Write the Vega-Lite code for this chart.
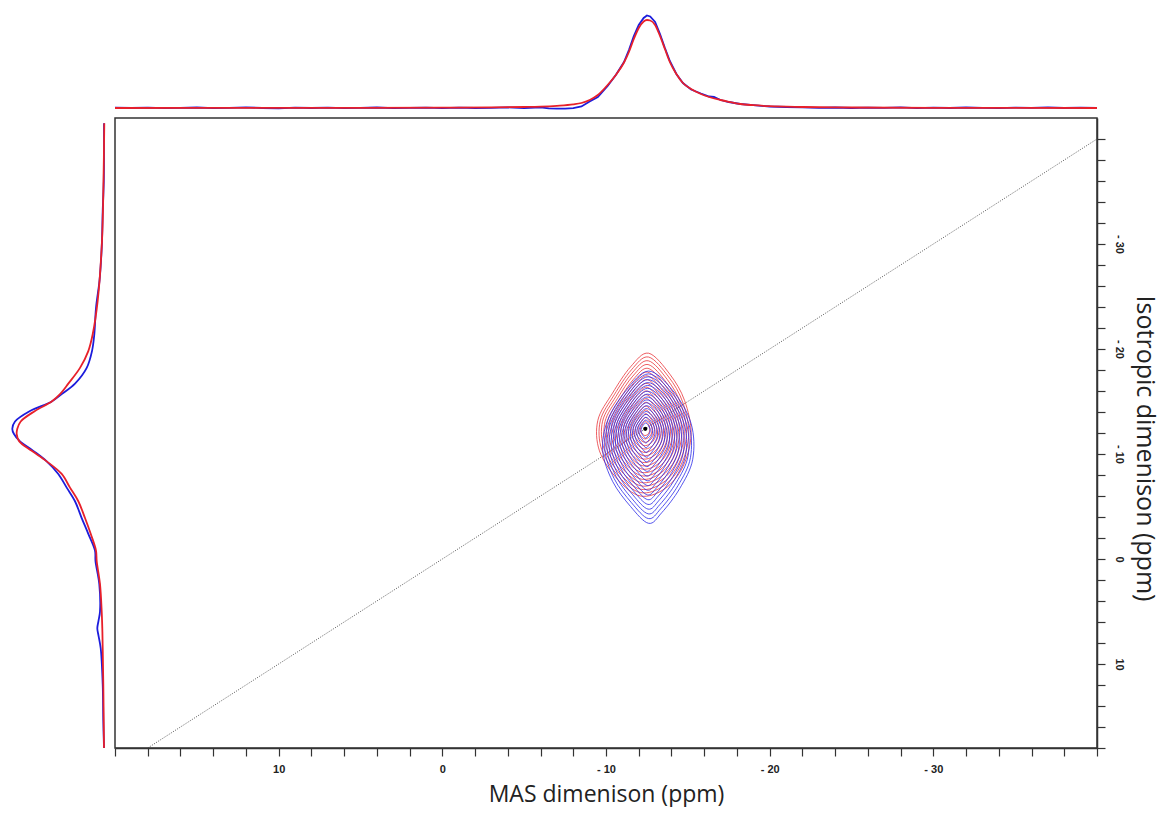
{
"$schema": "https://vega.github.io/schema/vega-lite/v6.json",
"padding": {"left": 8, "top": 10, "right": 0, "bottom": 0},
"background": "white",
"config": {"view": {"stroke": null}, "font": "Liberation Sans"},
"datasets": {
"topB": [
{"x":20,"v":2.3},{"x":19,"v":2.0},{"x":18,"v":2.4},{"x":17,"v":1.8},{"x":16,"v":2.2},{"x":15,"v":2.5},{"x":14,"v":1.9},{"x":13,"v":2.1},{"x":12,"v":2.6},{"x":11,"v":2.0},{"x":10,"v":1.7},{"x":9,"v":2.3},{"x":8,"v":2.0},{"x":7,"v":2.4},{"x":6,"v":1.9},{"x":5,"v":2.2},{"x":4,"v":2.5},{"x":3,"v":1.8},{"x":2,"v":2.1},{"x":1,"v":2.3},{"x":0,"v":1.9},{"x":-1,"v":2.4},{"x":-2,"v":2.0},{"x":-3,"v":2.2},{"x":-4,"v":2.6},{"x":-5,"v":2.0},{"x":-6,"v":2.7},{"x":-6.5,"v":1.7},{"x":-7,"v":1.4},{"x":-7.5,"v":1.3},{"x":-8,"v":1.8},{"x":-8.5,"v":3.5},{"x":-9,"v":8.5},{"x":-9.5,"v":13},{"x":-10.1,"v":24},{"x":-10.6,"v":35},{"x":-11.1,"v":48},{"x":-11.4,"v":60},{"x":-11.7,"v":74},{"x":-12.0,"v":85},{"x":-12.3,"v":92},{"x":-12.5,"v":94.5},{"x":-12.7,"v":93.5},{"x":-13.0,"v":88},{"x":-13.3,"v":76},{"x":-13.6,"v":62},{"x":-13.9,"v":49},{"x":-14.3,"v":36},{"x":-14.7,"v":27},{"x":-15.2,"v":20.5},{"x":-15.8,"v":16.5},{"x":-16.3,"v":13.5},{"x":-16.6,"v":13},{"x":-17.0,"v":10},{"x":-17.5,"v":8},{"x":-18.2,"v":6},{"x":-19,"v":4.8},{"x":-20,"v":3.5},{"x":-21,"v":3.0},{"x":-22,"v":2.6},{"x":-23,"v":2.2},{"x":-24,"v":2.5},{"x":-25,"v":2.0},{"x":-26,"v":2.4},{"x":-27,"v":2.1},{"x":-28,"v":2.6},{"x":-29,"v":1.9},{"x":-30,"v":2.3},{"x":-31,"v":2.0},{"x":-32,"v":2.5},{"x":-33,"v":2.2},{"x":-34,"v":1.8},{"x":-35,"v":2.4},{"x":-36,"v":2.1},{"x":-37,"v":2.6},{"x":-38,"v":2.0},{"x":-39,"v":2.3},{"x":-40,"v":2.1}
],
"topR": [
{"x":20,"v":2.0},{"x":10,"v":2.1},{"x":5,"v":2.2},{"x":0,"v":2.3},{"x":-3,"v":2.6},{"x":-5,"v":3.0},{"x":-6,"v":3.4},{"x":-7,"v":4.2},{"x":-8,"v":5.6},{"x":-8.5,"v":7},{"x":-9,"v":10},{"x":-9.5,"v":15},{"x":-10.1,"v":25},{"x":-10.6,"v":35},{"x":-11.1,"v":47.5},{"x":-11.4,"v":58},{"x":-11.7,"v":71},{"x":-12.0,"v":82},{"x":-12.3,"v":88.5},{"x":-12.5,"v":90},{"x":-12.7,"v":89.5},{"x":-13.0,"v":85},{"x":-13.3,"v":74},{"x":-13.6,"v":61},{"x":-13.9,"v":48},{"x":-14.3,"v":36},{"x":-14.7,"v":27},{"x":-15.2,"v":21},{"x":-15.8,"v":16},{"x":-16.3,"v":13},{"x":-17.0,"v":10},{"x":-17.5,"v":8.2},{"x":-18.2,"v":6},{"x":-19,"v":4.8},{"x":-20,"v":3.8},{"x":-22,"v":3.0},{"x":-25,"v":2.5},{"x":-30,"v":2.2},{"x":-40,"v":2.0}
],
"leftB": [
{"y":-41.5,"v":4},{"y":-38.9,"v":4},{"y":-36.0,"v":4.2},{"y":-33.1,"v":5.3},{"y":-30.3,"v":6},{"y":-28.4,"v":7},{"y":-26.5,"v":8.5},{"y":-23.9,"v":12},{"y":-21.4,"v":13.7},{"y":-19.8,"v":16},{"y":-18.2,"v":21.3},{"y":-16.7,"v":33},{"y":-15.7,"v":46.3},{"y":-15.0,"v":56.3},{"y":-14.1,"v":78},{"y":-13.1,"v":93},{"y":-12.4,"v":95.7},{"y":-11.9,"v":94},{"y":-11.2,"v":88},{"y":-10.3,"v":74.7},{"y":-9.3,"v":61.3},{"y":-8.1,"v":49.7},{"y":-6.8,"v":41.3},{"y":-5.5,"v":33},{"y":-3.9,"v":26.3},{"y":-2.4,"v":19.7},{"y":-0.8,"v":13},{"y":0.2,"v":12.5},{"y":2.4,"v":8.7},{"y":5.0,"v":8},{"y":5.9,"v":9.5},{"y":6.6,"v":10.7},{"y":7.3,"v":9.5},{"y":8.5,"v":7.3},{"y":11.9,"v":5.3},{"y":15.4,"v":4.7},{"y":18,"v":4}
],
"leftR": [
{"y":-41.5,"v":3.7},{"y":-36.0,"v":4.5},{"y":-30.3,"v":6},{"y":-24.6,"v":10.3},{"y":-21.4,"v":15.3},{"y":-19.8,"v":19.7},{"y":-18.2,"v":28},{"y":-16.7,"v":39.7},{"y":-15.7,"v":48},{"y":-15.0,"v":56.3},{"y":-14.1,"v":73},{"y":-13.1,"v":87.3},{"y":-12.4,"v":90.7},{"y":-11.9,"v":91.3},{"y":-11.2,"v":88.7},{"y":-10.3,"v":76.3},{"y":-9.3,"v":61.3},{"y":-8.1,"v":46.3},{"y":-6.8,"v":38},{"y":-5.5,"v":29.7},{"y":-3.9,"v":23},{"y":-2.4,"v":17.3},{"y":-0.8,"v":12},{"y":0.2,"v":11.3},{"y":2.4,"v":8},{"y":5.0,"v":6.3},{"y":6.6,"v":5.7},{"y":8.5,"v":5.3},{"y":11.9,"v":4.7},{"y":18,"v":4}
],
"diag": [{"x":18,"y":18},{"x":-40,"y":-40}],
"center": [{"x":-12.4,"y":-12.4}],
"contR": [
{"k":"r1","i":1,"x":-12.6,"y":-19.6},{"k":"r1","i":2,"x":-13.9,"y":-17.6},{"k":"r1","i":3,"x":-14.8,"y":-15.1},{"k":"r1","i":4,"x":-15.2,"y":-11.9},{"k":"r1","i":5,"x":-14.7,"y":-8.8},{"k":"r1","i":6,"x":-13.6,"y":-6.7},{"k":"r1","i":7,"x":-12.1,"y":-6.0},{"k":"r1","i":8,"x":-10.7,"y":-7.6},{"k":"r1","i":9,"x":-9.6,"y":-10.3},{"k":"r1","i":10,"x":-9.5,"y":-13.2},{"k":"r1","i":11,"x":-10.4,"y":-15.8},{"k":"r1","i":12,"x":-11.5,"y":-18.3},
{"k":"r1h","i":1,"x":-12.59,"y":-19.24},{"k":"r1h","i":2,"x":-13.83,"y":-17.34},{"k":"r1h","i":3,"x":-14.68,"y":-14.97},{"k":"r1h","i":4,"x":-15.06,"y":-11.93},{"k":"r1h","i":5,"x":-14.59,"y":-8.98},{"k":"r1h","i":6,"x":-13.54,"y":-6.99},{"k":"r1h","i":7,"x":-12.12,"y":-6.32},{"k":"r1h","i":8,"x":-10.79,"y":-7.84},{"k":"r1h","i":9,"x":-9.74,"y":-10.41},{"k":"r1h","i":10,"x":-9.65,"y":-13.16},{"k":"r1h","i":11,"x":-10.5,"y":-15.63},{"k":"r1h","i":12,"x":-11.55,"y":-18.01},
{"k":"r2","i":1,"x":-12.58,"y":-18.88},{"k":"r2","i":2,"x":-13.75,"y":-17.08},{"k":"r2","i":3,"x":-14.56,"y":-14.83},{"k":"r2","i":4,"x":-14.92,"y":-11.95},{"k":"r2","i":5,"x":-14.47,"y":-9.16},{"k":"r2","i":6,"x":-13.48,"y":-7.27},{"k":"r2","i":7,"x":-12.13,"y":-6.64},{"k":"r2","i":8,"x":-10.87,"y":-8.08},{"k":"r2","i":9,"x":-9.88,"y":-10.51},{"k":"r2","i":10,"x":-9.79,"y":-13.12},{"k":"r2","i":11,"x":-10.6,"y":-15.46},{"k":"r2","i":12,"x":-11.59,"y":-17.71},
{"k":"r2h","i":1,"x":-12.57,"y":-18.52},{"k":"r2h","i":2,"x":-13.68,"y":-16.82},{"k":"r2h","i":3,"x":-14.44,"y":-14.7},{"k":"r2h","i":4,"x":-14.78,"y":-11.98},{"k":"r2h","i":5,"x":-14.36,"y":-9.34},{"k":"r2h","i":6,"x":-13.42,"y":-7.56},{"k":"r2h","i":7,"x":-12.15,"y":-6.96},{"k":"r2h","i":8,"x":-10.96,"y":-8.32},{"k":"r2h","i":9,"x":-10.02,"y":-10.62},{"k":"r2h","i":10,"x":-9.94,"y":-13.08},{"k":"r2h","i":11,"x":-10.7,"y":-15.29},{"k":"r2h","i":12,"x":-11.64,"y":-17.42},
{"k":"r3","i":1,"x":-12.56,"y":-18.16},{"k":"r3","i":2,"x":-13.6,"y":-16.56},{"k":"r3","i":3,"x":-14.32,"y":-14.56},{"k":"r3","i":4,"x":-14.64,"y":-12.0},{"k":"r3","i":5,"x":-14.24,"y":-9.52},{"k":"r3","i":6,"x":-13.36,"y":-7.84},{"k":"r3","i":7,"x":-12.16,"y":-7.28},{"k":"r3","i":8,"x":-11.04,"y":-8.56},{"k":"r3","i":9,"x":-10.16,"y":-10.72},{"k":"r3","i":10,"x":-10.08,"y":-13.04},{"k":"r3","i":11,"x":-10.8,"y":-15.12},{"k":"r3","i":12,"x":-11.68,"y":-17.12},
{"k":"r3h","i":1,"x":-12.55,"y":-17.8},{"k":"r3h","i":2,"x":-13.53,"y":-16.3},{"k":"r3h","i":3,"x":-14.2,"y":-14.43},{"k":"r3h","i":4,"x":-14.5,"y":-12.03},{"k":"r3h","i":5,"x":-14.13,"y":-9.7},{"k":"r3h","i":6,"x":-13.3,"y":-8.13},{"k":"r3h","i":7,"x":-12.18,"y":-7.6},{"k":"r3h","i":8,"x":-11.13,"y":-8.8},{"k":"r3h","i":9,"x":-10.3,"y":-10.83},{"k":"r3h","i":10,"x":-10.23,"y":-13.0},{"k":"r3h","i":11,"x":-10.9,"y":-14.95},{"k":"r3h","i":12,"x":-11.73,"y":-16.83},
{"k":"r4","i":1,"x":-12.54,"y":-17.44},{"k":"r4","i":2,"x":-13.45,"y":-16.04},{"k":"r4","i":3,"x":-14.08,"y":-14.29},{"k":"r4","i":4,"x":-14.36,"y":-12.05},{"k":"r4","i":5,"x":-14.01,"y":-9.88},{"k":"r4","i":6,"x":-13.24,"y":-8.41},{"k":"r4","i":7,"x":-12.19,"y":-7.92},{"k":"r4","i":8,"x":-11.21,"y":-9.04},{"k":"r4","i":9,"x":-10.44,"y":-10.93},{"k":"r4","i":10,"x":-10.37,"y":-12.96},{"k":"r4","i":11,"x":-11.0,"y":-14.78},{"k":"r4","i":12,"x":-11.77,"y":-16.53},
{"k":"r4h","i":1,"x":-12.53,"y":-17.08},{"k":"r4h","i":2,"x":-13.38,"y":-15.78},{"k":"r4h","i":3,"x":-13.96,"y":-14.16},{"k":"r4h","i":4,"x":-14.22,"y":-12.08},{"k":"r4h","i":5,"x":-13.9,"y":-10.06},{"k":"r4h","i":6,"x":-13.18,"y":-8.7},{"k":"r4h","i":7,"x":-12.21,"y":-8.24},{"k":"r4h","i":8,"x":-11.3,"y":-9.28},{"k":"r4h","i":9,"x":-10.58,"y":-11.04},{"k":"r4h","i":10,"x":-10.52,"y":-12.92},{"k":"r4h","i":11,"x":-11.1,"y":-14.61},{"k":"r4h","i":12,"x":-11.82,"y":-16.24},
{"k":"r5","i":1,"x":-12.52,"y":-16.72},{"k":"r5","i":2,"x":-13.3,"y":-15.52},{"k":"r5","i":3,"x":-13.84,"y":-14.02},{"k":"r5","i":4,"x":-14.08,"y":-12.1},{"k":"r5","i":5,"x":-13.78,"y":-10.24},{"k":"r5","i":6,"x":-13.12,"y":-8.98},{"k":"r5","i":7,"x":-12.22,"y":-8.56},{"k":"r5","i":8,"x":-11.38,"y":-9.52},{"k":"r5","i":9,"x":-10.72,"y":-11.14},{"k":"r5","i":10,"x":-10.66,"y":-12.88},{"k":"r5","i":11,"x":-11.2,"y":-14.44},{"k":"r5","i":12,"x":-11.86,"y":-15.94},
{"k":"r5h","i":1,"x":-12.51,"y":-16.36},{"k":"r5h","i":2,"x":-13.23,"y":-15.26},{"k":"r5h","i":3,"x":-13.72,"y":-13.89},{"k":"r5h","i":4,"x":-13.94,"y":-12.13},{"k":"r5h","i":5,"x":-13.67,"y":-10.42},{"k":"r5h","i":6,"x":-13.06,"y":-9.27},{"k":"r5h","i":7,"x":-12.24,"y":-8.88},{"k":"r5h","i":8,"x":-11.47,"y":-9.76},{"k":"r5h","i":9,"x":-10.86,"y":-11.25},{"k":"r5h","i":10,"x":-10.81,"y":-12.84},{"k":"r5h","i":11,"x":-11.3,"y":-14.27},{"k":"r5h","i":12,"x":-11.91,"y":-15.65},
{"k":"r6","i":1,"x":-12.5,"y":-16.0},{"k":"r6","i":2,"x":-13.15,"y":-15.0},{"k":"r6","i":3,"x":-13.6,"y":-13.75},{"k":"r6","i":4,"x":-13.8,"y":-12.15},{"k":"r6","i":5,"x":-13.55,"y":-10.6},{"k":"r6","i":6,"x":-13.0,"y":-9.55},{"k":"r6","i":7,"x":-12.25,"y":-9.2},{"k":"r6","i":8,"x":-11.55,"y":-10.0},{"k":"r6","i":9,"x":-11.0,"y":-11.35},{"k":"r6","i":10,"x":-10.95,"y":-12.8},{"k":"r6","i":11,"x":-11.4,"y":-14.1},{"k":"r6","i":12,"x":-11.95,"y":-15.35},
{"k":"r6h","i":1,"x":-12.49,"y":-15.64},{"k":"r6h","i":2,"x":-13.08,"y":-14.74},{"k":"r6h","i":3,"x":-13.48,"y":-13.62},{"k":"r6h","i":4,"x":-13.66,"y":-12.18},{"k":"r6h","i":5,"x":-13.44,"y":-10.78},{"k":"r6h","i":6,"x":-12.94,"y":-9.84},{"k":"r6h","i":7,"x":-12.27,"y":-9.52},{"k":"r6h","i":8,"x":-11.64,"y":-10.24},{"k":"r6h","i":9,"x":-11.14,"y":-11.46},{"k":"r6h","i":10,"x":-11.1,"y":-12.76},{"k":"r6h","i":11,"x":-11.5,"y":-13.93},{"k":"r6h","i":12,"x":-12.0,"y":-15.06},
{"k":"r7","i":1,"x":-12.48,"y":-15.28},{"k":"r7","i":2,"x":-13.0,"y":-14.48},{"k":"r7","i":3,"x":-13.36,"y":-13.48},{"k":"r7","i":4,"x":-13.52,"y":-12.2},{"k":"r7","i":5,"x":-13.32,"y":-10.96},{"k":"r7","i":6,"x":-12.88,"y":-10.12},{"k":"r7","i":7,"x":-12.28,"y":-9.84},{"k":"r7","i":8,"x":-11.72,"y":-10.48},{"k":"r7","i":9,"x":-11.28,"y":-11.56},{"k":"r7","i":10,"x":-11.24,"y":-12.72},{"k":"r7","i":11,"x":-11.6,"y":-13.76},{"k":"r7","i":12,"x":-12.04,"y":-14.76},
{"k":"r7h","i":1,"x":-12.47,"y":-14.92},{"k":"r7h","i":2,"x":-12.93,"y":-14.22},{"k":"r7h","i":3,"x":-13.24,"y":-13.35},{"k":"r7h","i":4,"x":-13.38,"y":-12.23},{"k":"r7h","i":5,"x":-13.21,"y":-11.14},{"k":"r7h","i":6,"x":-12.82,"y":-10.41},{"k":"r7h","i":7,"x":-12.3,"y":-10.16},{"k":"r7h","i":8,"x":-11.81,"y":-10.72},{"k":"r7h","i":9,"x":-11.42,"y":-11.67},{"k":"r7h","i":10,"x":-11.39,"y":-12.68},{"k":"r7h","i":11,"x":-11.7,"y":-13.59},{"k":"r7h","i":12,"x":-12.09,"y":-14.47},
{"k":"r8","i":1,"x":-12.46,"y":-14.56},{"k":"r8","i":2,"x":-12.85,"y":-13.96},{"k":"r8","i":3,"x":-13.12,"y":-13.21},{"k":"r8","i":4,"x":-13.24,"y":-12.25},{"k":"r8","i":5,"x":-13.09,"y":-11.32},{"k":"r8","i":6,"x":-12.76,"y":-10.69},{"k":"r8","i":7,"x":-12.31,"y":-10.48},{"k":"r8","i":8,"x":-11.89,"y":-10.96},{"k":"r8","i":9,"x":-11.56,"y":-11.77},{"k":"r8","i":10,"x":-11.53,"y":-12.64},{"k":"r8","i":11,"x":-11.8,"y":-13.42},{"k":"r8","i":12,"x":-12.13,"y":-14.17},
{"k":"r8h","i":1,"x":-12.45,"y":-14.2},{"k":"r8h","i":2,"x":-12.78,"y":-13.7},{"k":"r8h","i":3,"x":-13.0,"y":-13.08},{"k":"r8h","i":4,"x":-13.1,"y":-12.28},{"k":"r8h","i":5,"x":-12.98,"y":-11.5},{"k":"r8h","i":6,"x":-12.7,"y":-10.98},{"k":"r8h","i":7,"x":-12.33,"y":-10.8},{"k":"r8h","i":8,"x":-11.98,"y":-11.2},{"k":"r8h","i":9,"x":-11.7,"y":-11.88},{"k":"r8h","i":10,"x":-11.68,"y":-12.6},{"k":"r8h","i":11,"x":-11.9,"y":-13.25},{"k":"r8h","i":12,"x":-12.18,"y":-13.88},
{"k":"r9","i":1,"x":-12.44,"y":-13.84},{"k":"r9","i":2,"x":-12.7,"y":-13.44},{"k":"r9","i":3,"x":-12.88,"y":-12.94},{"k":"r9","i":4,"x":-12.96,"y":-12.3},{"k":"r9","i":5,"x":-12.86,"y":-11.68},{"k":"r9","i":6,"x":-12.64,"y":-11.26},{"k":"r9","i":7,"x":-12.34,"y":-11.12},{"k":"r9","i":8,"x":-12.06,"y":-11.44},{"k":"r9","i":9,"x":-11.84,"y":-11.98},{"k":"r9","i":10,"x":-11.82,"y":-12.56},{"k":"r9","i":11,"x":-12.0,"y":-13.08},{"k":"r9","i":12,"x":-12.22,"y":-13.58},
{"k":"r9h","i":1,"x":-12.43,"y":-13.48},{"k":"r9h","i":2,"x":-12.63,"y":-13.18},{"k":"r9h","i":3,"x":-12.76,"y":-12.81},{"k":"r9h","i":4,"x":-12.82,"y":-12.33},{"k":"r9h","i":5,"x":-12.75,"y":-11.86},{"k":"r9h","i":6,"x":-12.58,"y":-11.55},{"k":"r9h","i":7,"x":-12.36,"y":-11.44},{"k":"r9h","i":8,"x":-12.15,"y":-11.68},{"k":"r9h","i":9,"x":-11.98,"y":-12.09},{"k":"r9h","i":10,"x":-11.97,"y":-12.52},{"k":"r9h","i":11,"x":-12.1,"y":-12.91},{"k":"r9h","i":12,"x":-12.27,"y":-13.29},
{"k":"r10","i":1,"x":-12.42,"y":-13.12},{"k":"r10","i":2,"x":-12.55,"y":-12.92},{"k":"r10","i":3,"x":-12.64,"y":-12.67},{"k":"r10","i":4,"x":-12.68,"y":-12.35},{"k":"r10","i":5,"x":-12.63,"y":-12.04},{"k":"r10","i":6,"x":-12.52,"y":-11.83},{"k":"r10","i":7,"x":-12.37,"y":-11.76},{"k":"r10","i":8,"x":-12.23,"y":-11.92},{"k":"r10","i":9,"x":-12.12,"y":-12.19},{"k":"r10","i":10,"x":-12.11,"y":-12.48},{"k":"r10","i":11,"x":-12.2,"y":-12.74},{"k":"r10","i":12,"x":-12.31,"y":-12.99}
],
"contB": [
{"k":"b1","i":1,"x":-12.6,"y":-17.9},{"k":"b1","i":2,"x":-14.1,"y":-16.0},{"k":"b1","i":3,"x":-15.2,"y":-12.9},{"k":"b1","i":4,"x":-15.3,"y":-9.5},{"k":"b1","i":5,"x":-14.5,"y":-6.7},{"k":"b1","i":6,"x":-13.4,"y":-4.4},{"k":"b1","i":7,"x":-12.6,"y":-3.4},{"k":"b1","i":8,"x":-11.5,"y":-5.0},{"k":"b1","i":9,"x":-10.4,"y":-7.4},{"k":"b1","i":10,"x":-9.8,"y":-10.3},{"k":"b1","i":11,"x":-10.1,"y":-13.2},{"k":"b1","i":12,"x":-11.2,"y":-16.0},
{"k":"b1h","i":1,"x":-12.59,"y":-17.63},{"k":"b1h","i":2,"x":-14.02,"y":-15.82},{"k":"b1h","i":3,"x":-15.06,"y":-12.88},{"k":"b1h","i":4,"x":-15.16,"y":-9.65},{"k":"b1h","i":5,"x":-14.4,"y":-6.99},{"k":"b1h","i":6,"x":-13.35,"y":-4.8},{"k":"b1h","i":7,"x":-12.59,"y":-3.85},{"k":"b1h","i":8,"x":-11.55,"y":-5.37},{"k":"b1h","i":9,"x":-10.5,"y":-7.65},{"k":"b1h","i":10,"x":-9.93,"y":-10.41},{"k":"b1h","i":11,"x":-10.22,"y":-13.16},{"k":"b1h","i":12,"x":-11.26,"y":-15.82},
{"k":"b2","i":1,"x":-12.58,"y":-17.35},{"k":"b2","i":2,"x":-13.93,"y":-15.64},{"k":"b2","i":3,"x":-14.92,"y":-12.85},{"k":"b2","i":4,"x":-15.01,"y":-9.79},{"k":"b2","i":5,"x":-14.29,"y":-7.27},{"k":"b2","i":6,"x":-13.3,"y":-5.2},{"k":"b2","i":7,"x":-12.58,"y":-4.3},{"k":"b2","i":8,"x":-11.59,"y":-5.74},{"k":"b2","i":9,"x":-10.6,"y":-7.9},{"k":"b2","i":10,"x":-10.06,"y":-10.51},{"k":"b2","i":11,"x":-10.33,"y":-13.12},{"k":"b2","i":12,"x":-11.32,"y":-15.64},
{"k":"b2h","i":1,"x":-12.57,"y":-17.08},{"k":"b2h","i":2,"x":-13.85,"y":-15.46},{"k":"b2h","i":3,"x":-14.78,"y":-12.83},{"k":"b2h","i":4,"x":-14.87,"y":-9.94},{"k":"b2h","i":5,"x":-14.19,"y":-7.56},{"k":"b2h","i":6,"x":-13.25,"y":-5.6},{"k":"b2h","i":7,"x":-12.57,"y":-4.75},{"k":"b2h","i":8,"x":-11.64,"y":-6.11},{"k":"b2h","i":9,"x":-10.7,"y":-8.15},{"k":"b2h","i":10,"x":-10.19,"y":-10.62},{"k":"b2h","i":11,"x":-10.45,"y":-13.08},{"k":"b2h","i":12,"x":-11.38,"y":-15.46},
{"k":"b3","i":1,"x":-12.56,"y":-16.8},{"k":"b3","i":2,"x":-13.76,"y":-15.28},{"k":"b3","i":3,"x":-14.64,"y":-12.8},{"k":"b3","i":4,"x":-14.72,"y":-10.08},{"k":"b3","i":5,"x":-14.08,"y":-7.84},{"k":"b3","i":6,"x":-13.2,"y":-6.0},{"k":"b3","i":7,"x":-12.56,"y":-5.2},{"k":"b3","i":8,"x":-11.68,"y":-6.48},{"k":"b3","i":9,"x":-10.8,"y":-8.4},{"k":"b3","i":10,"x":-10.32,"y":-10.72},{"k":"b3","i":11,"x":-10.56,"y":-13.04},{"k":"b3","i":12,"x":-11.44,"y":-15.28},
{"k":"b3h","i":1,"x":-12.55,"y":-16.53},{"k":"b3h","i":2,"x":-13.68,"y":-15.1},{"k":"b3h","i":3,"x":-14.5,"y":-12.78},{"k":"b3h","i":4,"x":-14.58,"y":-10.23},{"k":"b3h","i":5,"x":-13.98,"y":-8.13},{"k":"b3h","i":6,"x":-13.15,"y":-6.4},{"k":"b3h","i":7,"x":-12.55,"y":-5.65},{"k":"b3h","i":8,"x":-11.73,"y":-6.85},{"k":"b3h","i":9,"x":-10.9,"y":-8.65},{"k":"b3h","i":10,"x":-10.45,"y":-10.83},{"k":"b3h","i":11,"x":-10.68,"y":-13.0},{"k":"b3h","i":12,"x":-11.5,"y":-15.1},
{"k":"b4","i":1,"x":-12.54,"y":-16.25},{"k":"b4","i":2,"x":-13.59,"y":-14.92},{"k":"b4","i":3,"x":-14.36,"y":-12.75},{"k":"b4","i":4,"x":-14.43,"y":-10.37},{"k":"b4","i":5,"x":-13.87,"y":-8.41},{"k":"b4","i":6,"x":-13.1,"y":-6.8},{"k":"b4","i":7,"x":-12.54,"y":-6.1},{"k":"b4","i":8,"x":-11.77,"y":-7.22},{"k":"b4","i":9,"x":-11.0,"y":-8.9},{"k":"b4","i":10,"x":-10.58,"y":-10.93},{"k":"b4","i":11,"x":-10.79,"y":-12.96},{"k":"b4","i":12,"x":-11.56,"y":-14.92},
{"k":"b4h","i":1,"x":-12.53,"y":-15.98},{"k":"b4h","i":2,"x":-13.51,"y":-14.74},{"k":"b4h","i":3,"x":-14.22,"y":-12.73},{"k":"b4h","i":4,"x":-14.29,"y":-10.52},{"k":"b4h","i":5,"x":-13.77,"y":-8.7},{"k":"b4h","i":6,"x":-13.05,"y":-7.2},{"k":"b4h","i":7,"x":-12.53,"y":-6.55},{"k":"b4h","i":8,"x":-11.82,"y":-7.59},{"k":"b4h","i":9,"x":-11.1,"y":-9.15},{"k":"b4h","i":10,"x":-10.71,"y":-11.04},{"k":"b4h","i":11,"x":-10.91,"y":-12.92},{"k":"b4h","i":12,"x":-11.62,"y":-14.74},
{"k":"b5","i":1,"x":-12.52,"y":-15.7},{"k":"b5","i":2,"x":-13.42,"y":-14.56},{"k":"b5","i":3,"x":-14.08,"y":-12.7},{"k":"b5","i":4,"x":-14.14,"y":-10.66},{"k":"b5","i":5,"x":-13.66,"y":-8.98},{"k":"b5","i":6,"x":-13.0,"y":-7.6},{"k":"b5","i":7,"x":-12.52,"y":-7.0},{"k":"b5","i":8,"x":-11.86,"y":-7.96},{"k":"b5","i":9,"x":-11.2,"y":-9.4},{"k":"b5","i":10,"x":-10.84,"y":-11.14},{"k":"b5","i":11,"x":-11.02,"y":-12.88},{"k":"b5","i":12,"x":-11.68,"y":-14.56},
{"k":"b5h","i":1,"x":-12.51,"y":-15.43},{"k":"b5h","i":2,"x":-13.34,"y":-14.38},{"k":"b5h","i":3,"x":-13.94,"y":-12.68},{"k":"b5h","i":4,"x":-14.0,"y":-10.81},{"k":"b5h","i":5,"x":-13.56,"y":-9.27},{"k":"b5h","i":6,"x":-12.95,"y":-8.0},{"k":"b5h","i":7,"x":-12.51,"y":-7.45},{"k":"b5h","i":8,"x":-11.91,"y":-8.33},{"k":"b5h","i":9,"x":-11.3,"y":-9.65},{"k":"b5h","i":10,"x":-10.97,"y":-11.25},{"k":"b5h","i":11,"x":-11.14,"y":-12.84},{"k":"b5h","i":12,"x":-11.74,"y":-14.38},
{"k":"b6","i":1,"x":-12.5,"y":-15.15},{"k":"b6","i":2,"x":-13.25,"y":-14.2},{"k":"b6","i":3,"x":-13.8,"y":-12.65},{"k":"b6","i":4,"x":-13.85,"y":-10.95},{"k":"b6","i":5,"x":-13.45,"y":-9.55},{"k":"b6","i":6,"x":-12.9,"y":-8.4},{"k":"b6","i":7,"x":-12.5,"y":-7.9},{"k":"b6","i":8,"x":-11.95,"y":-8.7},{"k":"b6","i":9,"x":-11.4,"y":-9.9},{"k":"b6","i":10,"x":-11.1,"y":-11.35},{"k":"b6","i":11,"x":-11.25,"y":-12.8},{"k":"b6","i":12,"x":-11.8,"y":-14.2},
{"k":"b6h","i":1,"x":-12.49,"y":-14.88},{"k":"b6h","i":2,"x":-13.17,"y":-14.02},{"k":"b6h","i":3,"x":-13.66,"y":-12.63},{"k":"b6h","i":4,"x":-13.71,"y":-11.1},{"k":"b6h","i":5,"x":-13.35,"y":-9.84},{"k":"b6h","i":6,"x":-12.85,"y":-8.8},{"k":"b6h","i":7,"x":-12.49,"y":-8.35},{"k":"b6h","i":8,"x":-12.0,"y":-9.07},{"k":"b6h","i":9,"x":-11.5,"y":-10.15},{"k":"b6h","i":10,"x":-11.23,"y":-11.46},{"k":"b6h","i":11,"x":-11.37,"y":-12.76},{"k":"b6h","i":12,"x":-11.86,"y":-14.02},
{"k":"b7","i":1,"x":-12.48,"y":-14.6},{"k":"b7","i":2,"x":-13.08,"y":-13.84},{"k":"b7","i":3,"x":-13.52,"y":-12.6},{"k":"b7","i":4,"x":-13.56,"y":-11.24},{"k":"b7","i":5,"x":-13.24,"y":-10.12},{"k":"b7","i":6,"x":-12.8,"y":-9.2},{"k":"b7","i":7,"x":-12.48,"y":-8.8},{"k":"b7","i":8,"x":-12.04,"y":-9.44},{"k":"b7","i":9,"x":-11.6,"y":-10.4},{"k":"b7","i":10,"x":-11.36,"y":-11.56},{"k":"b7","i":11,"x":-11.48,"y":-12.72},{"k":"b7","i":12,"x":-11.92,"y":-13.84},
{"k":"b7h","i":1,"x":-12.47,"y":-14.33},{"k":"b7h","i":2,"x":-13.0,"y":-13.66},{"k":"b7h","i":3,"x":-13.38,"y":-12.58},{"k":"b7h","i":4,"x":-13.42,"y":-11.39},{"k":"b7h","i":5,"x":-13.14,"y":-10.41},{"k":"b7h","i":6,"x":-12.75,"y":-9.6},{"k":"b7h","i":7,"x":-12.47,"y":-9.25},{"k":"b7h","i":8,"x":-12.09,"y":-9.81},{"k":"b7h","i":9,"x":-11.7,"y":-10.65},{"k":"b7h","i":10,"x":-11.49,"y":-11.67},{"k":"b7h","i":11,"x":-11.6,"y":-12.68},{"k":"b7h","i":12,"x":-11.98,"y":-13.66},
{"k":"b8","i":1,"x":-12.46,"y":-14.05},{"k":"b8","i":2,"x":-12.91,"y":-13.48},{"k":"b8","i":3,"x":-13.24,"y":-12.55},{"k":"b8","i":4,"x":-13.27,"y":-11.53},{"k":"b8","i":5,"x":-13.03,"y":-10.69},{"k":"b8","i":6,"x":-12.7,"y":-10.0},{"k":"b8","i":7,"x":-12.46,"y":-9.7},{"k":"b8","i":8,"x":-12.13,"y":-10.18},{"k":"b8","i":9,"x":-11.8,"y":-10.9},{"k":"b8","i":10,"x":-11.62,"y":-11.77},{"k":"b8","i":11,"x":-11.71,"y":-12.64},{"k":"b8","i":12,"x":-12.04,"y":-13.48},
{"k":"b8h","i":1,"x":-12.45,"y":-13.78},{"k":"b8h","i":2,"x":-12.83,"y":-13.3},{"k":"b8h","i":3,"x":-13.1,"y":-12.53},{"k":"b8h","i":4,"x":-13.13,"y":-11.68},{"k":"b8h","i":5,"x":-12.93,"y":-10.98},{"k":"b8h","i":6,"x":-12.65,"y":-10.4},{"k":"b8h","i":7,"x":-12.45,"y":-10.15},{"k":"b8h","i":8,"x":-12.18,"y":-10.55},{"k":"b8h","i":9,"x":-11.9,"y":-11.15},{"k":"b8h","i":10,"x":-11.75,"y":-11.88},{"k":"b8h","i":11,"x":-11.83,"y":-12.6},{"k":"b8h","i":12,"x":-12.1,"y":-13.3},
{"k":"b9","i":1,"x":-12.44,"y":-13.5},{"k":"b9","i":2,"x":-12.74,"y":-13.12},{"k":"b9","i":3,"x":-12.96,"y":-12.5},{"k":"b9","i":4,"x":-12.98,"y":-11.82},{"k":"b9","i":5,"x":-12.82,"y":-11.26},{"k":"b9","i":6,"x":-12.6,"y":-10.8},{"k":"b9","i":7,"x":-12.44,"y":-10.6},{"k":"b9","i":8,"x":-12.22,"y":-10.92},{"k":"b9","i":9,"x":-12.0,"y":-11.4},{"k":"b9","i":10,"x":-11.88,"y":-11.98},{"k":"b9","i":11,"x":-11.94,"y":-12.56},{"k":"b9","i":12,"x":-12.16,"y":-13.12},
{"k":"b9h","i":1,"x":-12.43,"y":-13.23},{"k":"b9h","i":2,"x":-12.66,"y":-12.94},{"k":"b9h","i":3,"x":-12.82,"y":-12.48},{"k":"b9h","i":4,"x":-12.84,"y":-11.97},{"k":"b9h","i":5,"x":-12.72,"y":-11.55},{"k":"b9h","i":6,"x":-12.55,"y":-11.2},{"k":"b9h","i":7,"x":-12.43,"y":-11.05},{"k":"b9h","i":8,"x":-12.27,"y":-11.29},{"k":"b9h","i":9,"x":-12.1,"y":-11.65},{"k":"b9h","i":10,"x":-12.01,"y":-12.09},{"k":"b9h","i":11,"x":-12.06,"y":-12.52},{"k":"b9h","i":12,"x":-12.22,"y":-12.94},
{"k":"b10","i":1,"x":-12.42,"y":-12.95},{"k":"b10","i":2,"x":-12.57,"y":-12.76},{"k":"b10","i":3,"x":-12.68,"y":-12.45},{"k":"b10","i":4,"x":-12.69,"y":-12.11},{"k":"b10","i":5,"x":-12.61,"y":-11.83},{"k":"b10","i":6,"x":-12.5,"y":-11.6},{"k":"b10","i":7,"x":-12.42,"y":-11.5},{"k":"b10","i":8,"x":-12.31,"y":-11.66},{"k":"b10","i":9,"x":-12.2,"y":-11.9},{"k":"b10","i":10,"x":-12.14,"y":-12.19},{"k":"b10","i":11,"x":-12.17,"y":-12.48},{"k":"b10","i":12,"x":-12.28,"y":-12.76}
]
},
"columns": 2,
"align": "each",
"spacing": {"row": 4, "column": 3},
"resolve": {"scale": {"x": "independent", "y": "independent"}},
"concat": [
{"width": 100, "height": 100, "data": {"values": [{"a": 0}]}, "mark": {"type": "point", "opacity": 0}, "encoding": {}},
{"width": 982, "height": 100,
 "encoding": {
  "x": {"field": "x", "type": "quantitative", "scale": {"domain": [20, -40], "nice": false, "zero": false}, "axis": null},
  "y": {"field": "v", "type": "quantitative", "scale": {"domain": [0, 100], "nice": false, "zero": false}, "axis": null}
 },
 "layer": [
  {"data": {"name": "topB"}, "mark": {"type": "line", "color": "#1c1cdc", "strokeWidth": 1.8}, "encoding": {}},
  {"data": {"name": "topR"}, "mark": {"type": "line", "color": "#e8202a", "strokeWidth": 1.8, "interpolate": "monotone"}, "encoding": {}}
 ]
},
{"width": 100, "height": 630,
 "encoding": {
  "x": {"field": "v", "type": "quantitative", "scale": {"domain": [100, 0], "nice": false, "zero": false}, "axis": null},
  "y": {"field": "y", "type": "quantitative", "scale": {"domain": [18, -42], "nice": false, "zero": false}, "axis": null},
  "order": {"field": "y", "type": "quantitative"}
 },
 "layer": [
  {"data": {"name": "leftB"}, "mark": {"type": "line", "color": "#1c1cdc", "strokeWidth": 1.8, "interpolate": "catmull-rom"}, "encoding": {}},
  {"data": {"name": "leftR"}, "mark": {"type": "line", "color": "#e8202a", "strokeWidth": 1.8, "interpolate": "catmull-rom"}, "encoding": {}}
 ]
},
{"width": 982, "height": 630,
 "view": {"stroke": "#333333", "strokeWidth": 1.5},
 "encoding": {
  "x": {"field": "x", "type": "quantitative", "scale": {"domain": [20, -40], "nice": false, "zero": false},
   "axis": {"title": "MAS dimenison (ppm)", "orient": "bottom", "grid": false,
    "values": [20,18,16,14,12,10,8,6,4,2,0,-2,-4,-6,-8,-10,-12,-14,-16,-18,-20,-22,-24,-26,-28,-30,-32,-34,-36,-38,-40],
    "labelExpr": "datum.value <= 10 && datum.value >= -30 && datum.value % 10 == 0 ? (datum.value < 0 ? '- ' + (-datum.value) : '' + datum.value) : ''",
    "tickSize": 8, "tickColor": "#333333", "tickWidth": 1.2, "domainColor": "#333333", "domainWidth": 1.5,
    "labelFont": "Liberation Sans Narrow, Liberation Sans", "labelFontWeight": "bold", "labelFontSize": 11, "labelColor": "#222222",
    "labelPadding": 7, "labelOverlap": false, "labelFlush": false, "labelBound": false,
    "titleFont": "Open Sans", "titleFontWeight": "normal", "titleFontSize": 23, "titleColor": "#222222", "titlePadding": 9}},
  "y": {"field": "y", "type": "quantitative", "scale": {"domain": [18, -42], "nice": false, "zero": false},
   "axis": {"title": "Isotropic dimenison (ppm)", "orient": "right", "grid": false,
    "values": [18,16,14,12,10,8,6,4,2,0,-2,-4,-6,-8,-10,-12,-14,-16,-18,-20,-22,-24,-26,-28,-30,-32,-34,-36,-38,-40],
    "labelExpr": "datum.value <= 10 && datum.value >= -30 && datum.value % 10 == 0 ? (datum.value < 0 ? '- ' + (-datum.value) : '' + datum.value) : ''",
    "tickSize": 8, "tickColor": "#333333", "tickWidth": 1.2, "domainColor": "#333333", "domainWidth": 1.5,
    "labelFont": "Liberation Sans Narrow, Liberation Sans", "labelFontWeight": "bold", "labelFontSize": 11, "labelColor": "#222222",
    "labelAngle": 90, "labelAlign": "center", "labelBaseline": "bottom",
    "labelPadding": 8, "labelOverlap": false, "labelFlush": false, "labelBound": false,
    "titleFont": "Open Sans", "titleFontWeight": "normal", "titleFontSize": 25, "titleColor": "#222222", "titlePadding": 7, "titleAngle": 90, "titleY": 330}}
 },
 "layer": [
  {"data": {"name": "diag"}, "mark": {"type": "line", "color": "#444444", "strokeWidth": 0.9, "strokeDash": [1, 1.5]}, "encoding": {}},
  {"data": {"name": "contR"}, "mark": {"type": "line", "color": "#e8353a", "strokeWidth": 0.8, "interpolate": "cardinal-closed"},
   "encoding": {"detail": {"field": "k", "type": "nominal"}, "order": {"field": "i", "type": "quantitative"}}},
  {"data": {"name": "contB"}, "mark": {"type": "line", "color": "#2a2ae8", "strokeWidth": 0.8, "interpolate": "cardinal-closed"},
   "encoding": {"detail": {"field": "k", "type": "nominal"}, "order": {"field": "i", "type": "quantitative"}}},
  {"data": {"name": "center"}, "mark": {"type": "point", "filled": true, "color": "black", "size": 18, "opacity": 1}, "encoding": {}}
 ]
}
]
}
